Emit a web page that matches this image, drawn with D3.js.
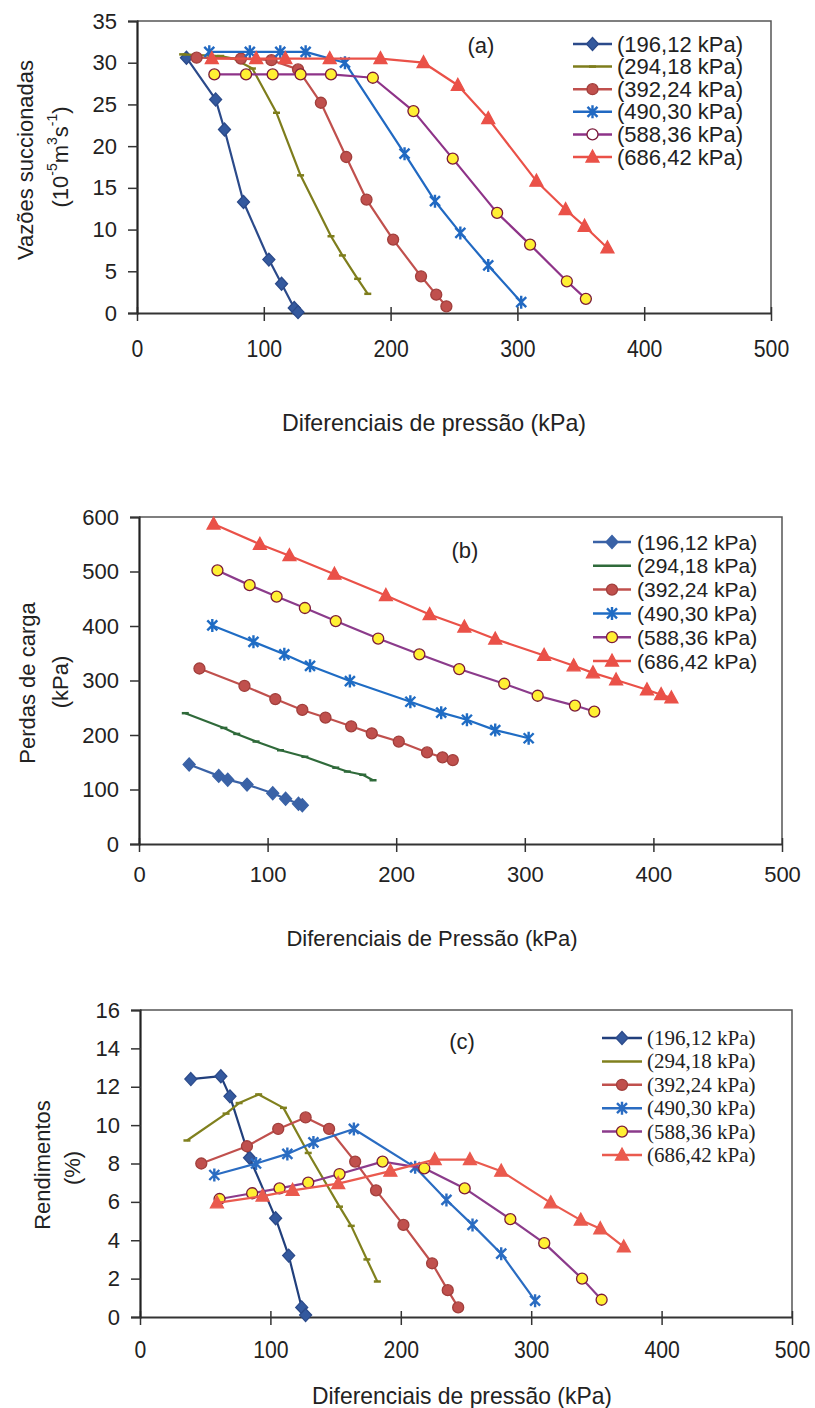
<!DOCTYPE html>
<html>
<head>
<meta charset="utf-8">
<script src="https://cdn.jsdelivr.net/npm/d3@7"></script>
<style>
  body { margin: 0; background: #fff; }
  svg text { fill: #222; }
</style>
</head>
<body>
<div id="plot"></div>
<script>
// Legend labels (one per inlet pressure) and axis ticks
var legendLabels = ["(196,12 kPa)", "(294,18 kPa)", "(392,24 kPa)", "(490,30 kPa)", "(588,36 kPa)", "(686,42 kPa)"];
var xTicks = [0, 100, 200, 300, 400, 500];
var yTicksA = [0, 5, 10, 15, 20, 25, 30, 35];
var yTicksB = [0, 100, 200, 300, 400, 500, 600];
var yTicksC = [0, 2, 4, 6, 8, 10, 12, 14, 16];

// Pressure differentials (kPa), one array per series
var dp196 = [39, 62, 69, 84, 104, 114, 124, 127];
var dp294 = [36, 66, 76, 91, 110, 129, 153, 162, 174, 182];
var dp392 = [47, 82, 106, 127, 145, 165, 181, 202, 224, 236, 244];
var dp490 = [57, 89, 113, 133, 164, 211, 235, 255, 277, 303];
var dp588 = [61, 86, 107, 129, 153, 186, 218, 249, 284, 310, 339, 354];
var dp686 = [59, 94, 117, 152, 192, 226, 253, 277, 315, 338, 353, 371];
var dp686b = [58, 94, 117, 152, 192, 226, 253, 277, 315, 338, 353, 371, 395, 406, 414];

// (a) Vazões succionadas (10^-5 m3/s)
var vazao196 = [30.6, 25.6, 22.0, 13.3, 6.4, 3.5, 0.6, 0.1];
var vazao294 = [31.0, 30.8, 30.5, 29.3, 24.0, 16.5, 9.2, 6.9, 4.1, 2.3];
var vazao392 = [30.6, 30.5, 30.3, 29.2, 25.2, 18.7, 13.6, 8.8, 4.4, 2.2, 0.8];
var vazao490 = [31.3, 31.3, 31.3, 31.3, 30.0, 19.1, 13.4, 9.6, 5.7, 1.3];
var vazao588 = [28.6, 28.6, 28.6, 28.6, 28.6, 28.2, 24.2, 18.5, 12.0, 8.2, 3.8, 1.7];
var vazao686 = [30.5, 30.5, 30.5, 30.5, 30.5, 30.0, 27.3, 23.3, 15.8, 12.4, 10.4, 7.8];

// (b) Perdas de carga (kPa)
var perda196 = [146, 125, 118, 109, 93, 83, 74, 71];
var perda294 = [240, 213, 202, 188, 172, 160, 140, 133, 127, 117];
var perda392 = [322, 290, 266, 246, 232, 216, 203, 188, 168, 159, 154];
var perda490 = [401, 371, 348, 327, 299, 261, 241, 228, 209, 194];
var perda588 = [502, 475, 454, 433, 409, 377, 348, 321, 294, 272, 254, 243];
var perda686 = [587, 550, 529, 495, 456, 421, 398, 376, 346, 327, 314, 301, 283, 274, 268];

// (c) Rendimentos (%)
var rend196 = [12.4, 12.55, 11.5, 8.3, 5.15, 3.2, 0.5, 0.1];
var rend294 = [9.2, 10.6, 11.15, 11.6, 10.9, 8.55, 5.75, 4.75, 3.0, 1.85];
var rend392 = [8.0, 8.9, 9.8, 10.4, 9.8, 8.1, 6.6, 4.8, 2.8, 1.4, 0.5];
var rend490 = [7.4, 8.0, 8.5, 9.1, 9.8, 7.8, 6.1, 4.8, 3.3, 0.85];
var rend588 = [6.15, 6.45, 6.7, 7.0, 7.45, 8.1, 7.75, 6.7, 5.1, 3.85, 2.0, 0.9];
var rend686 = [5.95, 6.3, 6.6, 6.95, 7.6, 8.2, 8.2, 7.6, 5.95, 5.05, 4.6, 3.65];

var svg;
var sans = "'Liberation Sans', Arial, sans-serif";

function zip(xs, ys) {
     return xs.map(function(x, i) { return {x: x, y: ys[i]}; });
}

// marker shapes, centred on 0,0
function markerPath(type) {
     if (type == "diamond") return "M0,-6.5L6,0L0,6.5L-6,0Z";
     if (type == "triangle") return "M0,-7L6.5,5L-6.5,5Z";
     if (type == "star") return "M-5,-5L5,5M-5,5L5,-5M0,-6.5L0,6.5";
     if (type == "dash") return "M-3.5,0L3.5,0";
     return d3.symbol().type(d3.symbolCircle).size(95)();
}

function drawMarker(g, type, st, fill) {
     var p = g.append("path").attr("d", markerPath(type));
     if (type == "star" || type == "dash") {
          p.attr("fill", "none").attr("stroke", st.color).attr("stroke-width", type == "dash" ? 2.5 : 2.4);
     } else {
          p.attr("fill", fill || st.fill).attr("stroke", st.stroke).attr("stroke-width", 1.3);
     }
}

function drawPanel(p) {
     var x = d3.scaleLinear().domain([0, 500]).range([p.left, p.right]);
     var y = d3.scaleLinear().domain([0, p.yMax]).range([p.bottom, p.top]);

     var g = svg.append("g").attr("id", "panel-" + p.id).style("font-family", sans);

     // frame (top and right)
     g.append("path")
          .attr("d", "M" + p.left + "," + p.top + "H" + p.right + "V" + p.bottom)
          .attr("fill", "none").attr("stroke", "#555").attr("stroke-width", 1.5);

     // X axis
     var gx = g.append("g")
          .attr("transform", "translate(0," + p.bottom + ")")
          .call(d3.axisBottom(x).tickValues(xTicks).tickSizeOuter(0));
     gx.attr("font-family", null);
     gx.select(".domain").attr("stroke", "#333").attr("stroke-width", 2);
     gx.selectAll(".tick line").attr("y1", -6).attr("y2", 8).attr("stroke", "#333").attr("stroke-width", 1.5);
     var xt = gx.selectAll(".tick text")
          .attr("y", p.xLabelOff).attr("dy", "0.35em")
          .attr("font-size", p.xTickSize);
     if (p.narrow) {
          // condensed labels: squeeze to a narrower width
          xt.attr("textLength", function(d) { return String(d).length * 11.8; })
            .attr("lengthAdjust", "spacingAndGlyphs");
     }

     // Y axis
     var gy = g.append("g")
          .attr("transform", "translate(" + p.left + ",0)")
          .call(d3.axisLeft(y).tickValues(p.yTicks).tickSizeOuter(0).tickSize(9).tickPadding(11));
     gy.attr("font-family", null);
     gy.select(".domain").attr("stroke", "#222").attr("stroke-width", 2.2);
     gy.selectAll(".tick line").attr("x2", -9).attr("x1", 1).attr("stroke", "#333").attr("stroke-width", 1.5);
     gy.selectAll(".tick text").attr("font-size", 22);

     // axis titles
     var xtl = g.append("text")
          .attr("x", p.xTitle[0]).attr("y", p.xTitle[1])
          .attr("text-anchor", "middle").attr("dominant-baseline", "central")
          .attr("font-size", p.xTitleSize)
          .text(p.xLabel);
     if (p.xTitleLen) xtl.attr("textLength", p.xTitleLen).attr("lengthAdjust", "spacingAndGlyphs");

     p.yTitle.forEach(function(t) {
          var tx = g.append("text")
               .attr("transform", "translate(" + t.x + "," + t.y + ") rotate(-90)")
               .attr("text-anchor", "middle").attr("dominant-baseline", "central")
               .attr("font-size", 22);
          var shift = 0;
          t.parts.forEach(function(part) {
               if (part.sup) {
                    tx.append("tspan").attr("font-size", 14).attr("dy", -8 - shift).text(part.sup);
                    shift = -8;
               } else {
                    tx.append("tspan").attr("dy", -shift).text(part.t);
                    shift = 0;
               }
          });
     });

     // panel tag
     g.append("text")
          .attr("x", p.tag[0]).attr("y", p.tag[1])
          .attr("text-anchor", "middle").attr("dominant-baseline", "central")
          .attr("font-size", 22).text("(" + p.id + ")");

     // series
     var line = d3.line().x(function(d) { return x(d.x); }).y(function(d) { return y(d.y); });

     p.series.forEach(function(s, i) {
          var st = p.styles[i];
          var pts = zip(s.xs, s.ys);
          g.append("path")
               .datum(pts)
               .attr("d", line)
               .attr("fill", "none")
               .attr("stroke", st.color)
               .attr("stroke-width", 2.2)
               .attr("stroke-linejoin", "round");
          g.selectAll(".m" + i)
               .data(pts)
               .enter()
               .append("g")
               .attr("class", "m" + i)
               .attr("transform", function(d) { return "translate(" + x(d.x) + "," + y(d.y) + ")"; })
               .each(function() { drawMarker(d3.select(this), st.marker, st); });
     });

     // legend
     var lg = g.append("g");
     legendLabels.forEach(function(lab, i) {
          var st = p.styles[i];
          var ly = p.legend.y0 + i * p.legend.step;
          lg.append("line")
               .attr("x1", p.legend.x1).attr("x2", p.legend.x2)
               .attr("y1", ly).attr("y2", ly)
               .attr("stroke", st.color).attr("stroke-width", 2.5);
          if (st.legendMarker !== "none") {
               var mg = lg.append("g").attr("transform", "translate(" + (p.legend.x1 + p.legend.x2) / 2 + "," + ly + ")");
               drawMarker(mg, st.marker, st, st.legendFill);
          }
          lg.append("text")
               .attr("x", p.legend.tx).attr("y", ly)
               .attr("dominant-baseline", "central")
               .attr("font-size", p.legend.size)
               .style("font-family", p.legend.font || sans)
               .text(lab);
     });
}

document.addEventListener("DOMContentLoaded", function(event) {
     svg = d3.select("#plot")
          .append("svg")
          .attr("width", 815)
          .attr("height", 1408)
          .style("display", "block");

     svg.append("rect").attr("width", 815).attr("height", 1408).attr("fill", "#fff");

     var stylesA = [
          {marker: "diamond", color: "#2b4a8a", fill: "#34599e", stroke: "#2b4a8a"},
          {marker: "dash", color: "#7e7d1c", fill: "#7e7d1c", stroke: "#7e7d1c"},
          {marker: "circle", color: "#c0504d", fill: "#c0504d", stroke: "#a13f3c"},
          {marker: "star", color: "#2169c2", fill: "#2169c2", stroke: "#2169c2"},
          {marker: "circle", color: "#8e3388", fill: "#fff033", stroke: "#7a1a3a", legendFill: "#fff"},
          {marker: "triangle", color: "#ea5148", fill: "#ea5148", stroke: "#ea5148"}
     ];
     var stylesB = [
          {marker: "diamond", color: "#3a62a6", fill: "#3a62a6", stroke: "#3a62a6"},
          {marker: "dash", color: "#2f6a3a", fill: "#2f6a3a", stroke: "#2f6a3a", legendMarker: "none"},
          {marker: "circle", color: "#c0504d", fill: "#c0504d", stroke: "#a13f3c"},
          {marker: "star", color: "#1f6cc4", fill: "#1f6cc4", stroke: "#1f6cc4"},
          {marker: "circle", color: "#8b3b8b", fill: "#fff033", stroke: "#7a1a3a"},
          {marker: "triangle", color: "#ea5148", fill: "#ea5148", stroke: "#ea5148"}
     ];
     var stylesC = [
          {marker: "diamond", color: "#213f7c", fill: "#34599e", stroke: "#2b4a8a"},
          {marker: "dash", color: "#80801e", fill: "#80801e", stroke: "#80801e", legendMarker: "none"},
          {marker: "circle", color: "#c0504d", fill: "#c0504d", stroke: "#a13f3c"},
          {marker: "star", color: "#2a6cc2", fill: "#2a6cc2", stroke: "#2a6cc2"},
          {marker: "circle", color: "#8b3b8b", fill: "#fff033", stroke: "#7a1a3a"},
          {marker: "triangle", color: "#ea5a4e", fill: "#ea5a4e", stroke: "#ea5a4e"}
     ];

     drawPanel({
          id: "a", left: 137, right: 771, top: 21, bottom: 313, yMax: 35, yTicks: yTicksA,
          xLabelOff: 36, xTickSize: 24, narrow: true,
          xTitle: [434, 422], xTitleSize: 24, xTitleLen: 304,
          xLabel: "Diferenciais de pressão (kPa)",
          yTitle: [
               {x: 25, y: 160, parts: [{t: "Vazões succionadas"}]},
               {x: 60, y: 157, parts: [{t: "(10"}, {sup: "-5"}, {t: "m"}, {sup: "3"}, {t: "s"}, {sup: "-1"}, {t: ")"}]}
          ],
          tag: [481, 45],
          styles: stylesA,
          legend: {x1: 573, x2: 612, tx: 617, y0: 44, step: 22.6, size: 22, font: null},
          series: [
               {xs: dp196, ys: vazao196}, {xs: dp294, ys: vazao294}, {xs: dp392, ys: vazao392},
               {xs: dp490, ys: vazao490}, {xs: dp588, ys: vazao588}, {xs: dp686, ys: vazao686}
          ]
     });

     drawPanel({
          id: "b", left: 139, right: 782, top: 517, bottom: 844, yMax: 600, yTicks: yTicksB,
          xLabelOff: 30, xTickSize: 22, narrow: false,
          xTitle: [432, 938], xTitleSize: 22, xTitleLen: null,
          xLabel: "Diferenciais de Pressão (kPa)",
          yTitle: [
               {x: 27, y: 683, parts: [{t: "Perdas de carga"}]},
               {x: 60, y: 682, parts: [{t: "(kPa)"}]}
          ],
          tag: [465, 550],
          styles: stylesB,
          legend: {x1: 593, x2: 631, tx: 637, y0: 542, step: 23.8, size: 21, font: null},
          series: [
               {xs: dp196, ys: perda196}, {xs: dp294, ys: perda294}, {xs: dp392, ys: perda392},
               {xs: dp490, ys: perda490}, {xs: dp588, ys: perda588}, {xs: dp686b, ys: perda686}
          ]
     });

     drawPanel({
          id: "c", left: 140, right: 792, top: 1010, bottom: 1317, yMax: 16, yTicks: yTicksC,
          xLabelOff: 33, xTickSize: 24, narrow: true,
          xTitle: [462, 1395], xTitleSize: 24, xTitleLen: 300,
          xLabel: "Diferenciais de pressão (kPa)",
          yTitle: [
               {x: 42, y: 1165, parts: [{t: "Rendimentos"}]},
               {x: 72, y: 1168, parts: [{t: "(%)"}]}
          ],
          tag: [462, 1041],
          styles: stylesC,
          legend: {x1: 602, x2: 642, tx: 647, y0: 1038, step: 23.4, size: 21, font: "'Liberation Serif', 'Times New Roman', serif"},
          series: [
               {xs: dp196, ys: rend196}, {xs: dp294, ys: rend294}, {xs: dp392, ys: rend392},
               {xs: dp490, ys: rend490}, {xs: dp588, ys: rend588}, {xs: dp686, ys: rend686}
          ]
     });
});
</script>
</body>
</html>
